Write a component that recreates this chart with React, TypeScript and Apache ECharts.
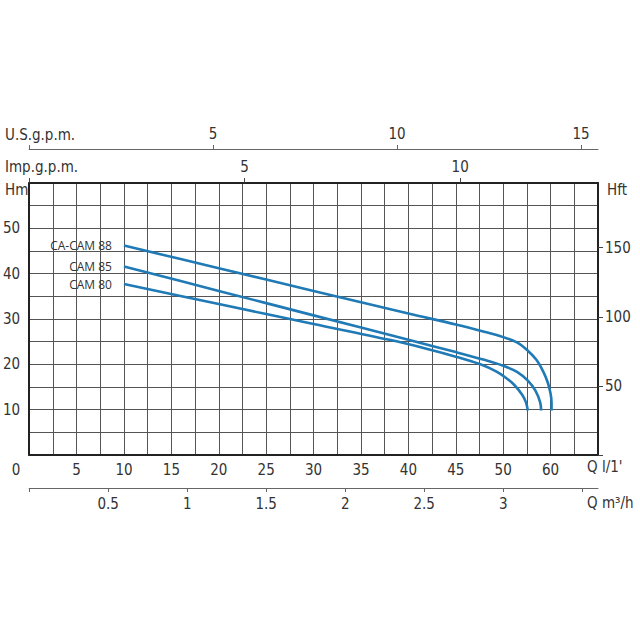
import React, { useEffect, useRef } from "react";
import * as echarts from "echarts";

// ---- data (flow in l/min, head in m) ----
const curve88: [number, number][] = [
  [10, 46.2], [20, 41.2], [30, 36.2], [40, 31.2], [45, 28.8], [48, 27.2],
  [50, 26.0], [51.5, 24.8], [52.6, 23.0], [53.5, 21.0], [54.2, 18.5],
  [54.7, 16.0], [55.0, 13.5], [55.1, 11.5], [55.1, 9.8],
];
const curve85: [number, number][] = [
  [10, 41.6], [20, 36.2], [30, 30.8], [40, 25.4], [45, 22.7], [48, 21.0],
  [50, 19.7], [51.5, 18.3], [52.6, 16.4], [53.4, 14.2], [53.9, 11.6],
  [54.0, 9.8],
];
const curve80: [number, number][] = [
  [10, 37.7], [20, 33.3], [30, 28.9], [38, 25.4], [42, 23.4], [45, 21.7],
  [47.6, 20.0], [49.3, 18.4], [50.1, 17.3], [51.1, 15.6], [52.0, 13.3],
  [52.4, 11.6], [52.6, 9.8],
];
const seriesNames = ["CA-CAM 88", "CAM 85", "CAM 80"];

// tick labels
const lpmTickValues = [0, 5, 10, 15, 20, 25, 30, 35, 40, 45, 50, 55];
const lpmTickLabels = ["0", "5", "10", "15", "20", "25", "30", "35", "40", "45", "50", "60"];
const m3hTickValues = [0.5, 1, 1.5, 2, 2.5, 3];
const m3hTickLabels = ["0.5", "1", "1.5", "2", "2.5", "3"];
const hmTickValues = [10, 20, 30, 40, 50];
const hftTickValues = [50, 100, 150];
const usTickValues = [5, 10, 15];
const impTickValues = [5, 10];

const LPM_MAX = 60;
const HM_MAX = 60;
const HFT_MAX = HM_MAX * 3.28084;
const US_MAX = 15.46;
const IMP_MAX = LPM_MAX / 4.546;
const M3H_MAX = LPM_MAX * 0.06;

const NUM_FONT = "'Liberation Sans Narrow', 'DejaVu Sans Condensed', 'Arial Narrow', sans-serif";
const LBL_FONT = "'Open Sans', 'Noto Sans', sans-serif";
const TXT = "#333";
const BLUE = "#1f7ab6";

function near(v: number, arr: number[]) {
  return arr.findIndex((a) => Math.abs(a - v) < 1e-6);
}

export default function App() {
  const ref = useRef<HTMLDivElement>(null);
  useEffect(() => {
    if (!ref.current) return;
    const chart = echarts.init(ref.current, undefined, { renderer: "svg" });
    const numLabel = { fontFamily: NUM_FONT, fontSize: 15, color: TXT };
    const mkSeries = (name: string, data: [number, number][]) => ({
      name,
      type: "line",
      xAxisIndex: 0,
      yAxisIndex: 0,
      smooth: 0.35,
      symbol: "none",
      lineStyle: { color: BLUE, width: 2.6 },
      data: data.map((d, i) =>
        i === 0
          ? {
              value: d,
              symbol: "circle",
              symbolSize: 0.1,
              label: {
                show: true,
                position: "left",
                distance: 12,
                formatter: name,
                fontFamily: LBL_FONT,
                fontSize: 12,
                color: TXT,
              },
            }
          : { value: d }
      ),
    });
    chart.setOption({
      animation: false,
      backgroundColor: "#fff",
      grid: { left: 29, right: 42, top: 183, bottom: 185 },
      xAxis: [
        {
          type: "value",
          position: "bottom",
          min: 0,
          max: LPM_MAX,
          interval: 2.5,
          axisLine: { show: true, onZero: false, lineStyle: { color: "#222", width: 2 } },
          axisTick: { show: false },
          splitLine: { show: true, lineStyle: { color: "#555", width: 1 } },
          axisLabel: {
            ...numLabel,
            margin: 7,
            showMaxLabel: true,
            formatter: (v: number) => {
              const i = near(v, lpmTickValues);
              if (i < 0) return "";
              if (v === 0) return "{z|0}";
              return lpmTickLabels[i];
            },
            rich: { z: { ...numLabel, padding: [0, 26, 0, 0] } },
          },
        },
        {
          type: "value",
          position: "top",
          min: 0,
          max: IMP_MAX,
          interval: 5,
          axisLine: { show: true, onZero: false, lineStyle: { color: "#222", width: 2 } },
          axisTick: { show: true, length: 5, lineStyle: { color: "#444", width: 1 } },
          splitLine: { show: false },
          axisLabel: {
            ...numLabel,
            margin: 9,
            showMaxLabel: false,
            formatter: (v: number) => (near(v, impTickValues) >= 0 ? String(v) : ""),
          },
        },
        {
          type: "value",
          position: "top",
          offset: 34,
          min: 0,
          max: US_MAX,
          interval: 5,
          axisLine: { show: true, onZero: false, lineStyle: { color: "#666", width: 1 } },
          axisTick: { show: true, length: 4, lineStyle: { color: "#666", width: 1 } },
          splitLine: { show: false },
          axisLabel: {
            ...numLabel,
            margin: 8,
            showMaxLabel: false,
            formatter: (v: number) => (near(v, usTickValues) >= 0 ? String(v) : ""),
          },
        },
        {
          type: "value",
          position: "bottom",
          offset: 33,
          min: 0,
          max: M3H_MAX,
          interval: 0.5,
          axisLine: { show: true, onZero: false, lineStyle: { color: "#666", width: 1 } },
          axisTick: { show: true, length: 4, lineStyle: { color: "#666", width: 1 } },
          splitLine: { show: false },
          axisLabel: {
            ...numLabel,
            margin: 8,
            showMaxLabel: false,
            formatter: (v: number) => {
              const i = near(v, m3hTickValues);
              return i >= 0 ? m3hTickLabels[i] : "";
            },
          },
        },
      ],
      yAxis: [
        {
          type: "value",
          position: "left",
          min: 0,
          max: HM_MAX,
          interval: 5,
          axisLine: { show: true, onZero: false, lineStyle: { color: "#222", width: 2 } },
          axisTick: { show: false },
          splitLine: { show: true, lineStyle: { color: "#555", width: 1 } },
          axisLabel: {
            ...numLabel,
            margin: 9,
            formatter: (v: number) => (near(v, hmTickValues) >= 0 ? String(v) : ""),
          },
        },
        {
          type: "value",
          position: "right",
          min: 0,
          max: HFT_MAX,
          interval: 50,
          axisLine: { show: true, onZero: false, lineStyle: { color: "#222", width: 2 } },
          axisTick: { show: true, length: 5, lineStyle: { color: "#444", width: 1 } },
          splitLine: { show: false },
          axisLabel: {
            ...numLabel,
            margin: 7,
            showMaxLabel: false,
            formatter: (v: number) => (near(v, hftTickValues) >= 0 ? String(v) : ""),
          },
        },
      ],
      graphic: [
        { type: "text", left: 5, top: 127, style: { text: "U.S.g.p.m.", font: `15px ${NUM_FONT}`, fill: TXT } },
        { type: "text", left: 5, top: 159, style: { text: "Imp.g.p.m.", font: `15px ${NUM_FONT}`, fill: TXT } },
        { type: "text", left: 5, top: 182, style: { text: "Hm", font: `15px ${NUM_FONT}`, fill: TXT } },
        { type: "text", left: 607, top: 182, style: { text: "Hft", font: `15px ${NUM_FONT}`, fill: TXT } },
        { type: "text", left: 587, top: 459, style: { text: "Q l/1'", font: `15px ${NUM_FONT}`, fill: TXT } },
        { type: "text", left: 587, top: 495, style: { text: "Q m³/h", font: `15px ${NUM_FONT}`, fill: TXT } },
      ],
      series: [
        mkSeries(seriesNames[0], curve88),
        mkSeries(seriesNames[1], curve85),
        mkSeries(seriesNames[2], curve80),
      ],
    });
    return () => chart.dispose();
  }, []);
  return (
    <div
      ref={ref}
      style={{ position: "fixed", left: 0, top: 0, width: 640, height: 640, background: "#fff" }}
    />
  );
}
